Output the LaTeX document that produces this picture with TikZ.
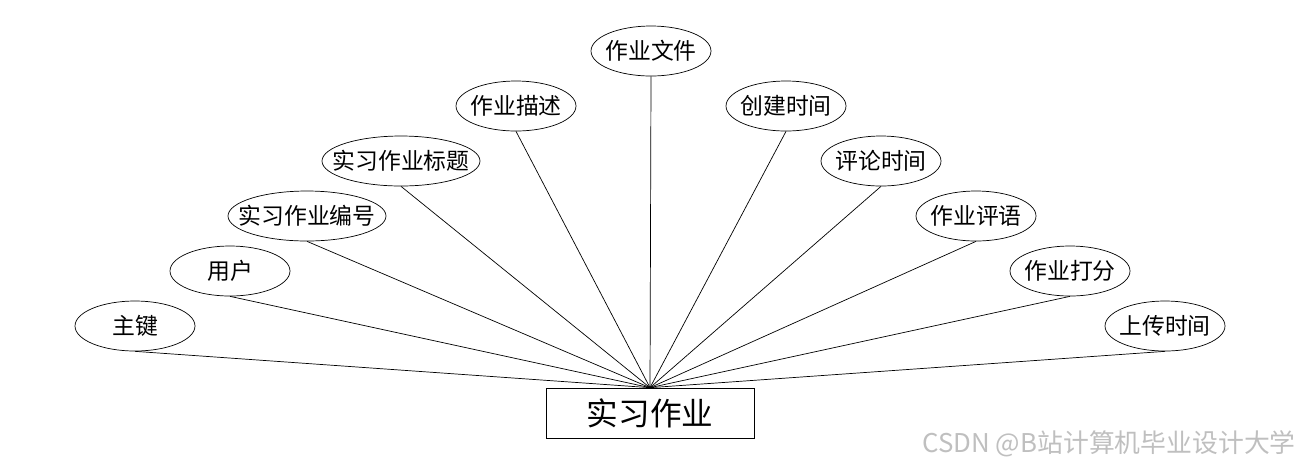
\documentclass[tikz,border=0pt]{standalone}
\usepackage{fontspec}
\setmainfont{Noto Sans CJK SC}
\usetikzlibrary{shapes.geometric}

\begin{document}
\begin{tikzpicture}[x=0.02cm, y=-0.02cm, attr/.style={ellipse, draw, thin, inner xsep=-0.3cm, inner ysep=0pt, minimum width=2.4cm, minimum height=1cm, font=\fontsize{13}{13}\selectfont}, entity/.style={rectangle, draw, thin, inner sep=0pt, minimum width=4.16cm, minimum height=1cm, font=\fontsize{18}{18}\selectfont}]
	\useasboundingbox (0,0) rectangle (1300,468);
	
	\node[entity] (sx) at (650, 413) {实习作业};
	\node[attr] (a1) at (135, 326) {主键};
	\node[attr] (a2) at (230, 271) {用户};
	\node[attr, minimum width=3.16cm] (a3) at (307, 216) {实习作业编号};
	\node[attr, minimum width=3.16cm] (a4) at (401, 161) {实习作业标题};
	\node[attr] (a5) at (516, 106) {作业描述};
	\node[attr] (a6) at (651, 51) {作业文件};
	\node[attr] (a7) at (786, 106) {创建时间};
	\node[attr] (a8) at (881, 161) {评论时间};
	\node[attr] (a9) at (976, 216) {作业评语};
	\node[attr] (a10) at (1070, 271) {作业打分};
	\node[attr] (a11) at (1165, 326) {上传时间};
	\draw[thin] (a1.south) -- (sx.north);
	\draw[thin] (a2.south) -- (sx.north);
	\draw[thin] (a3.south) -- (sx.north);
	\draw[thin] (a4.south) -- (sx.north);
	\draw[thin] (a5.south) -- (sx.north);
	\draw[thin] (a6.south) -- (sx.north);
	\draw[thin] (a7.south) -- (sx.north);
	\draw[thin] (a8.south) -- (sx.north);
	\draw[thin] (a9.south) -- (sx.north);
	\draw[thin] (a10.south) -- (sx.north);
	\draw[thin] (a11.south) -- (sx.north);
	\node[text=black!25, inner sep=0pt, anchor=east, font=\fontsize{14.7}{14.7}\selectfont] (wm) at (1296, 444) {CSDN @B站计算机毕业设计大学};
\end{tikzpicture}
\end{document}
